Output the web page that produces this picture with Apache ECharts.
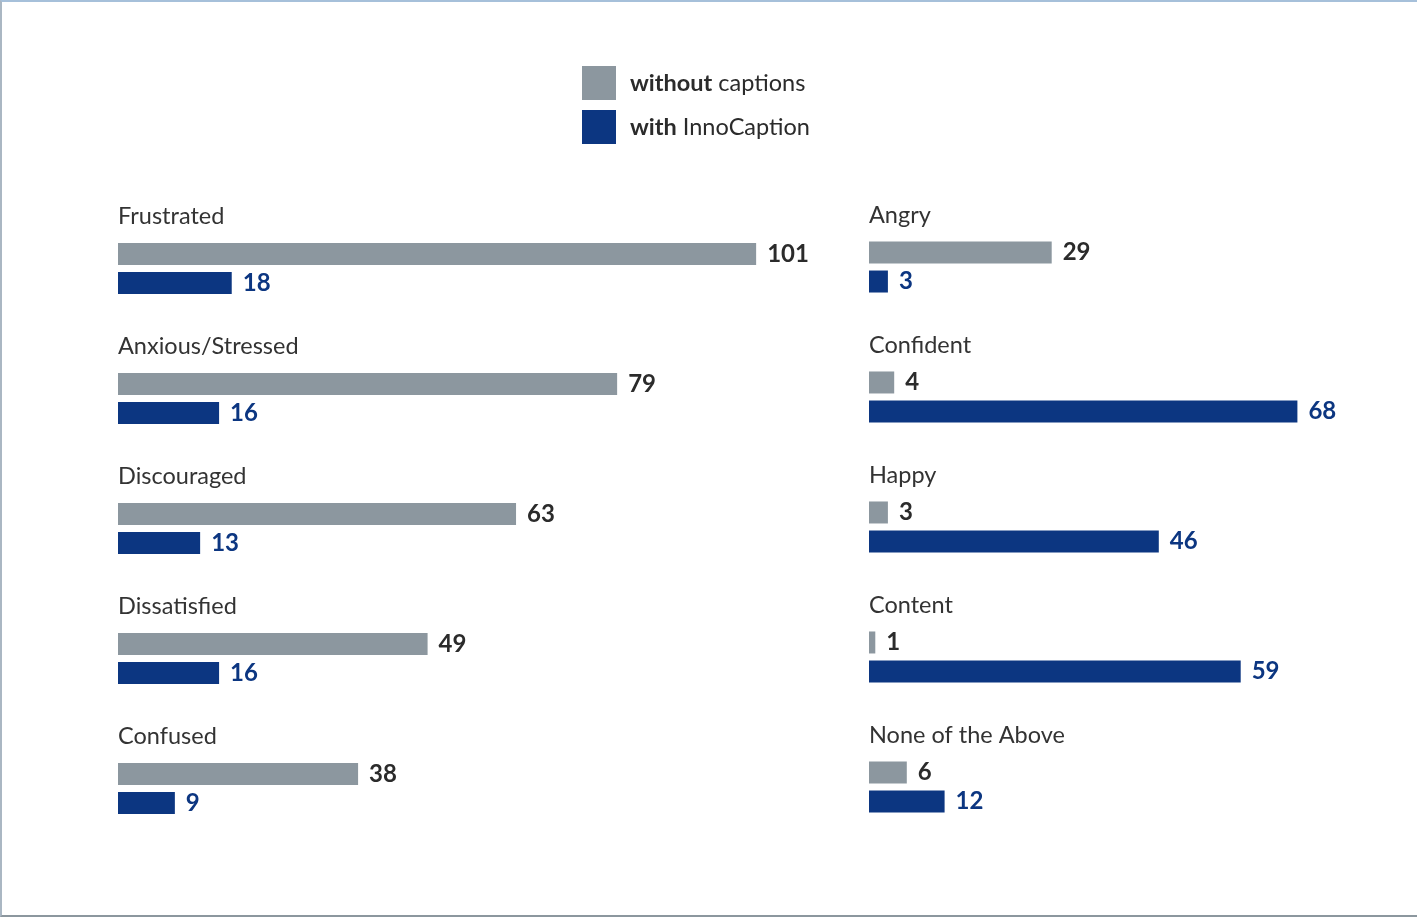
<!DOCTYPE html>
<html><head><meta charset="utf-8">
<script src="https://cdn.jsdelivr.net/npm/echarts@6/dist/echarts.min.js"></script>
<style>
html,body{margin:0;padding:0;background:#fff;}
#frame{position:absolute;left:0;top:0;width:1417px;height:917px;box-sizing:border-box;border-top:2px solid #a6c0da;border-left:2px solid #aab7c3;border-bottom:2px solid #8c979e;}
#chart{position:absolute;left:0;top:0;width:1417px;height:917px;}
</style></head>
<body><div id="frame"></div><div id="chart"></div>
<script>
const leftCategories = ['Frustrated','Anxious/Stressed','Discouraged','Dissatisfied','Confused'];
const leftWithout = [101,79,63,49,38];
const leftWith = [18,16,13,16,9];
const rightCategories = ['Angry','Confident','Happy','Content','None of the Above'];
const rightWithout = [29,4,3,1,6];
const rightWith = [3,68,46,59,12];
const seriesNames = ['without captions','with InnoCaption'];

const GRAY = '#8c979f', BLUE = '#0c3681';
const FONT = 'Lato';
const chart = echarts.init(document.getElementById('chart'));

function yAxis(idx, cats){
  return {type:'category', gridIndex:idx, data:cats, inverse:true,
    axisLine:{show:false}, axisTick:{show:false},
    axisLabel:{inside:true, margin:0, align:'left', verticalAlign:'middle',
      formatter: v => '{a|' + v + '}\n{a| }',
      rich:{a:{lineHeight:104, color:'#333', fontFamily:FONT, fontSize:23.5}}}};
}
function xAxis(idx, max){
  return {type:'value', gridIndex:idx, min:0, max:max, show:false, splitLine:{show:false}};
}
function bar(name, idx, data, color, labelColor){
  return {name:name, type:'bar', xAxisIndex:idx, yAxisIndex:idx, data:data,
    barWidth:22, barGap:'32%', itemStyle:{color:color},
    label:{show:true, position:'right', distance:11, color:labelColor,
      fontFamily:FONT, fontWeight:'bold', fontSize:24},
    emphasis:{disabled:true}, silent:true, animation:false};
}

chart.setOption({
  animation:false,
  legend:{orient:'vertical', left:582, top:66, padding:0, itemWidth:34, itemHeight:34, itemGap:10,
    icon:'rect', selectedMode:false, data:seriesNames,
    formatter: n => n.startsWith('without') ? '{b|without} {r|captions}' : '{b|with} {r|InnoCaption}',
    textStyle:{color:'#2b2b2b', fontFamily:FONT, fontSize:23.5, padding:[0,0,0,9],
      rich:{b:{fontWeight:'bold', fontFamily:FONT, fontSize:23.5, color:'#2b2b2b'},
            r:{fontFamily:FONT, fontSize:23.5, color:'#2b2b2b'}}}},
  grid:[
    {left:118, top:203.5, width:695, height:650},
    {left:869, top:202, width:504, height:650}
  ],
  xAxis:[xAxis(0,110), xAxis(1,80)],
  yAxis:[yAxis(0,leftCategories), yAxis(1,rightCategories)],
  series:[
    bar(seriesNames[0],0,leftWithout,GRAY,'#2b2b2b'),
    bar(seriesNames[1],0,leftWith,BLUE,BLUE),
    bar(seriesNames[0],1,rightWithout,GRAY,'#2b2b2b'),
    bar(seriesNames[1],1,rightWith,BLUE,BLUE)
  ]
});
</script></body></html>
